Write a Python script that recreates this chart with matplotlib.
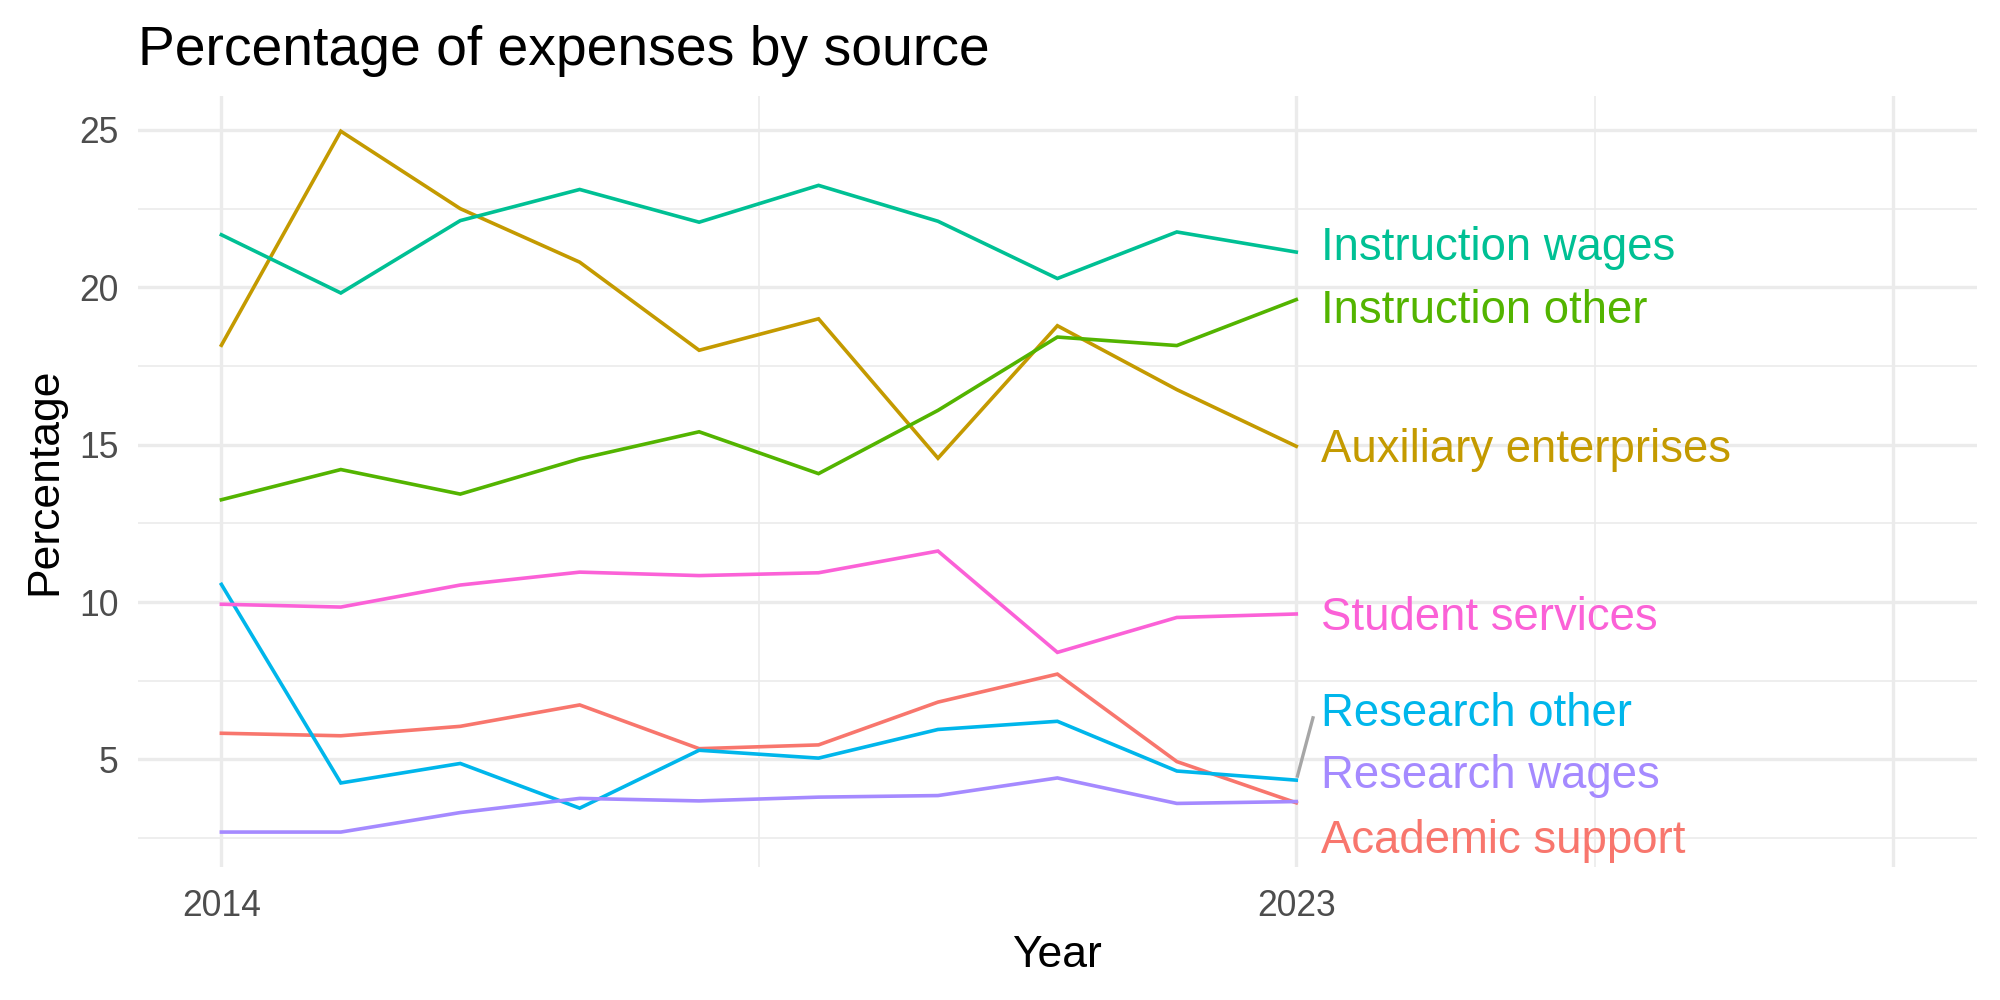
import numpy as np
import matplotlib.pyplot as plt

plt.rcParams['font.family'] = ['Liberation Sans', 'DejaVu Sans']

years = np.arange(2014, 2024)

academic_support = [5.83, 5.75, 6.05, 6.73, 5.34, 5.46, 6.82, 7.71, 4.93, 3.62]
auxiliary_enterprises = [18.16, 24.96, 22.50, 20.80, 18.00, 19.00, 14.57, 18.78, 16.75, 14.95]
instruction_other = [13.25, 14.21, 13.43, 14.55, 15.41, 14.08, 16.09, 18.42, 18.15, 19.61]
instruction_wages = [21.67, 19.82, 22.12, 23.11, 22.07, 23.24, 22.10, 20.28, 21.76, 21.12]
research_other = [10.56, 4.25, 4.87, 3.45, 5.29, 5.04, 5.95, 6.21, 4.63, 4.34]
research_wages = [2.69, 2.69, 3.31, 3.76, 3.68, 3.80, 3.85, 4.41, 3.60, 3.66]
student_services = [9.93, 9.84, 10.54, 10.95, 10.84, 10.93, 11.62, 8.40, 9.51, 9.62]

series = [
    ("Academic support", academic_support, '#F8766D'),
    ("Auxiliary enterprises", auxiliary_enterprises, '#C49A00'),
    ("Instruction other", instruction_other, '#53B400'),
    ("Instruction wages", instruction_wages, '#00C094'),
    ("Research other", research_other, '#00B6EB'),
    ("Research wages", research_wages, '#A58AFF'),
    ("Student services", student_services, '#FB61D7'),
]

# where the repelled end labels ended up
label_y = {
    "Academic support": 2.42,
    "Auxiliary enterprises": 14.82,
    "Instruction other": 19.24,
    "Instruction wages": 21.26,
    "Research other": 6.45,
    "Research wages": 4.46,
    "Student services": 9.50,
}

grid = '#EBEBEB'
tick_col = '#4D4D4D'

fig = plt.figure(figsize=(10, 5), dpi=200, facecolor='white')
ax = fig.add_axes([0.0689, 0.133, 0.9196, 0.771])
ax.set_facecolor('white')

# grid
for x in [2014, 2023, 2028]:
    ax.axvline(x, color=grid, lw=1.2, zorder=0)
for x in [2018.5, 2025.5]:
    ax.axvline(x, color=grid, lw=0.6, zorder=0)
for y in [5, 10, 15, 20, 25]:
    ax.axhline(y, color=grid, lw=1.2, zorder=0)
for y in [2.5, 7.5, 12.5, 17.5, 22.5]:
    ax.axhline(y, color=grid, lw=0.6, zorder=0)

for name, vals, col in series:
    ax.plot(years, vals, color=col, lw=1.3, solid_joinstyle='miter', zorder=2)
    ax.text(2023.21, label_y[name], name, color=col, fontsize=16.4,
            ha='left', va='center', zorder=3)

# repel segment for Research other
ax.plot([2023.01, 2023.14], [4.47, 6.32], color='#A6A6A6', lw=1.2, zorder=2)

ax.set_xlim(2013.3, 2028.7)
ax.set_ylim(1.58, 26.08)
ax.set_xticks([2014, 2023])
ax.set_yticks([5, 10, 15, 20, 25])
ax.tick_params(length=0, labelsize=12.8, labelcolor=tick_col)
ax.tick_params(axis='x', pad=8)
ax.tick_params(axis='y', pad=7)
for s in ax.spines.values():
    s.set_visible(False)

ax.set_xlabel('Year', fontsize=16, labelpad=4)
ax.set_ylabel('Percentage', fontsize=16, labelpad=5)

fig.text(0.0689, 0.935, 'Percentage of expenses by source', fontsize=19.9,
         ha='left', va='baseline')

fig.savefig('out.png', dpi=200, facecolor='white')
